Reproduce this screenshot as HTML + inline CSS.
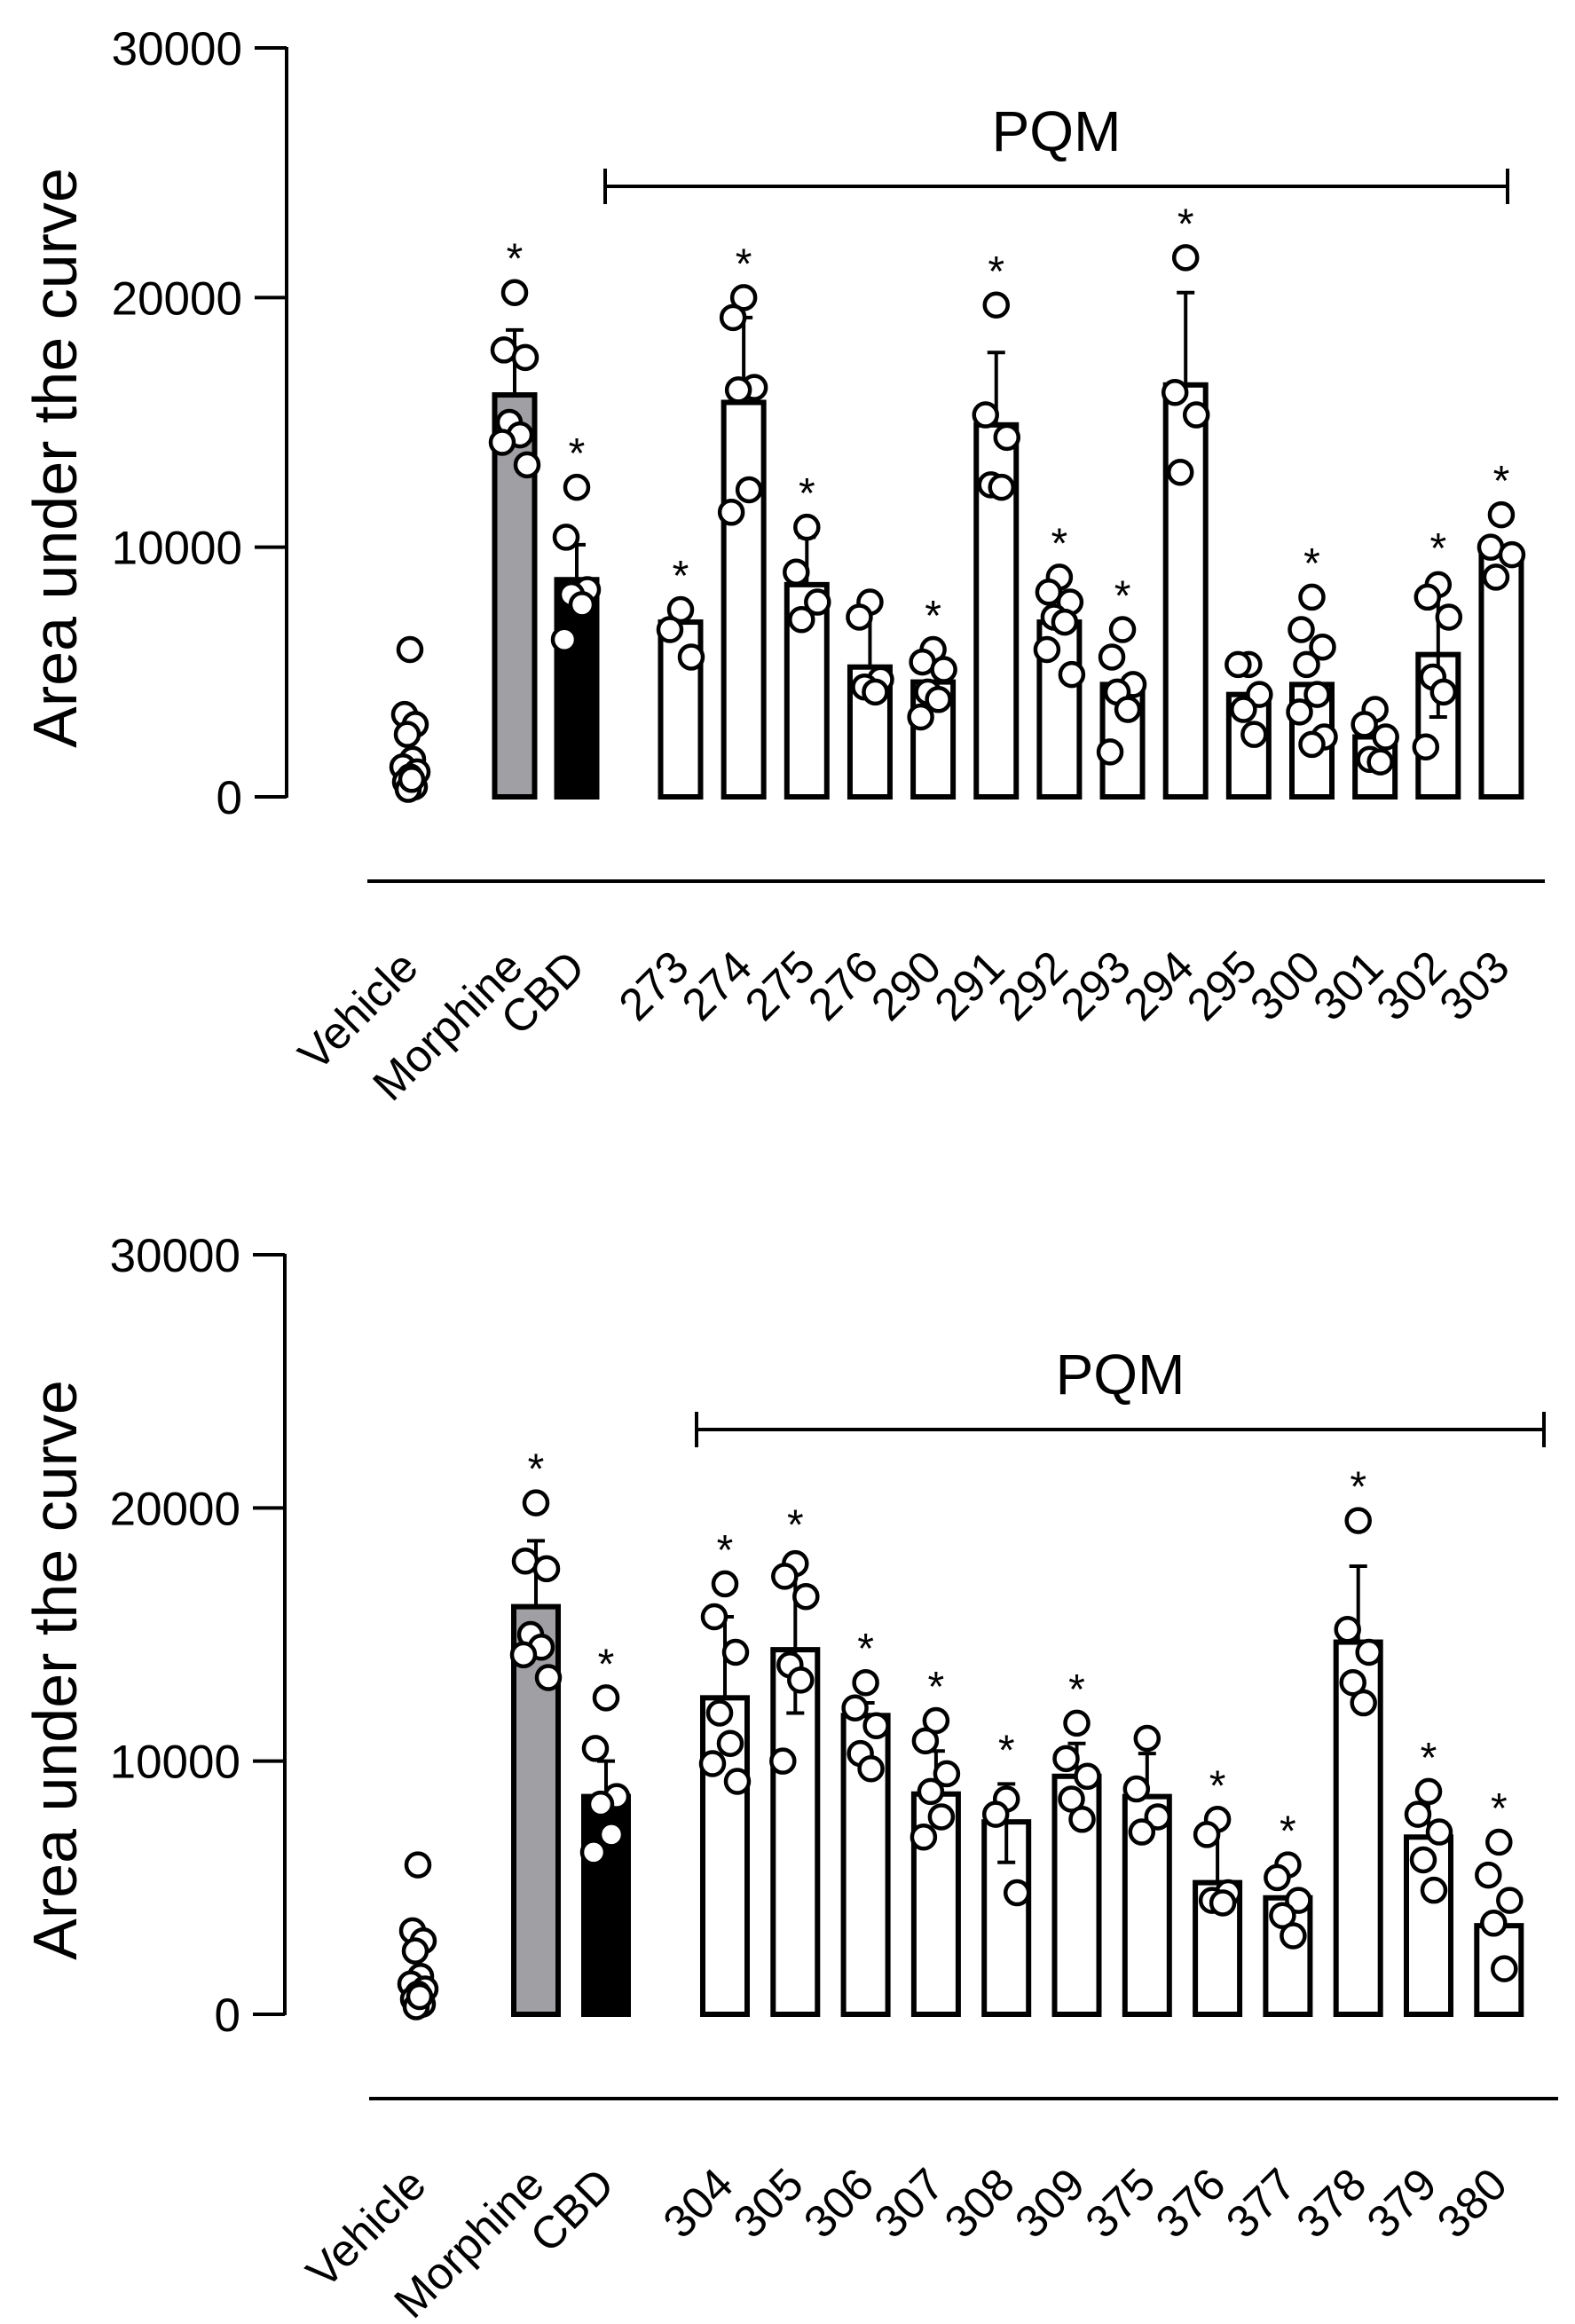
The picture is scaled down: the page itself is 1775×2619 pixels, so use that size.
<!DOCTYPE html>
<html><head><meta charset="utf-8"><style>
html,body{margin:0;padding:0;background:#fff;}
svg{display:block;font-family:"Liberation Sans",Arial,sans-serif;}
</style></head><body>
<svg id="chart" width="1775" height="2619" viewBox="0 0 1775 2619" xmlns="http://www.w3.org/2000/svg"></svg>
<script>
// ---------- data: top panel ----------
const topCategories = ["Vehicle","Morphine","CBD","273","274","275","276","290","291","292","293","294","295","300","301","302","303"];
const topMeans = [1300,16100,8700,7000,15800,8500,5200,4600,14900,7000,4500,16500,4100,4500,2400,5700,9800];
const topErrUp = [null,18700,10100,null,19200,10400,7800,null,17800,null,null,20200,null,null,null,8600,null];
const topErrDown = [null,null,null,null,null,null,null,null,null,null,null,null,null,null,null,3200,null];
const topStars = [false,true,true,true,true,true,false,true,true,true,true,true,false,true,false,true,true];
const topPoints = [
 [5900,3300,2900,2500,1500,1200,1000,800,600,400,300,700],
 [20200,17900,17600,15000,14500,14200,13300],
 [12400,10400,8300,8100,7700,6300],
 [7500,6700,5600],
 [20000,19200,16400,16300,12300,11400],
 [10800,9000,7800,7100],
 [7800,7200,4700,4400,4200],
 [5900,5400,5100,4200,3900,3200],
 [19700,15300,14400,12500,12400],
 [8800,8200,7800,7200,7000,5900,4900],
 [6700,5600,4500,4200,3500,1800],
 [21600,16200,15300,13000],
 [5300,5300,4100,3500,2500],
 [8000,6700,6000,5300,4100,3400,2400,2100],
 [3500,2900,2400,1500,1400],
 [8500,8000,7200,4800,4200,2000],
 [11300,10000,9700,8800]
];
// ---------- data: bottom panel ----------
const botCategories = ["Vehicle","Morphine","CBD","304","305","306","307","308","309","375","376","377","378","379","380"];
const botMeans = [1300,16100,8600,12500,14400,11800,8700,7600,9400,8600,5200,4600,14700,7000,3500];
const botErrUp = [null,18700,10000,15700,18000,12300,10400,9100,10700,10300,7700,null,17700,8800,null];
const botErrDown = [null,null,null,null,11900,null,null,6000,null,null,null,null,null,null,null];
const botStars = [false,true,true,true,true,true,true,true,true,false,true,true,true,true,true];
const botPoints = [
 [5900,3300,2900,2500,1500,1200,1000,800,600,400,300,700],
 [20200,17900,17600,15000,14500,14200,13300],
 [12500,10500,8600,8300,7100,6400],
 [17000,15700,14300,11900,10700,9900,9200],
 [17800,17300,16500,13800,13200,10000],
 [13100,12100,11400,10300,9700],
 [11600,10800,9500,8800,7800,7000],
 [8500,7900,4800],
 [11500,10100,9400,8500,7700],
 [10900,8900,7800,7200],
 [7700,7100,4800,4500,4400],
 [5900,5400,4500,3900,3100],
 [19500,15200,14300,13100,12300],
 [8800,7900,7200,6100,4900],
 [6800,5500,4500,3600,1800]
];
const yTicks = [0,10000,20000,30000];
const yTickLabels = ["0","10000","20000","30000"];

const NS = "http://www.w3.org/2000/svg";
const svg = document.getElementById("chart");
function mk(tag, attrs, parent){
  const e = document.createElementNS(NS, tag);
  for (const k in attrs) e.setAttribute(k, attrs[k]);
  (parent||svg).appendChild(e);
  return e;
}
const jit = [0,-12,12,-6,6,-14,14,0,-9,9,-3,3];
const vjit = [0,-6,6,-3,3,-8,8,0,-5,5,-2,2];

function drawPanel(p){
  const g = mk("g",{});
  
  
  const y = v => p.y0 - v/30000*(p.y0-p.y30);
  const x = i => i===0 ? p.vehX : (i===1 ? p.morX : (i===2 ? p.cbdX : p.firstX + (i-3)*p.step));
  const ax = mk("line",{x1:p.axX,y1:y(30000)-1,x2:p.axX,y2:y(0)+1,stroke:"#000","stroke-width":4},g);
  
  
  yTicks.forEach((t,k)=>{
    const tl = mk("line",{x1:p.axX-36,y1:y(t),x2:p.axX,y2:y(t),stroke:"#000","stroke-width":4},g);
    
    
    const tx = mk("text",{x:p.axX-50,y:y(t)+19,"font-size":53,"text-anchor":"end",fill:"#000"},g);
    tx.textContent = yTickLabels[k];
    
    
  });
  const yt = mk("text",{x:0,y:0,"font-size":70,"text-anchor":"middle",fill:"#000",transform:`translate(86,${(y(0)+y(30000))/2+40}) rotate(-90)`},g);
  yt.textContent = "Area under the curve";
  
  
  const bl = mk("line",{x1:p.blX1,y1:p.blY,x2:p.blX2,y2:p.blY,stroke:"#000","stroke-width":4},g);
  
  
  const br = mk("path",{d:`M${p.brX1},${p.brY-20}V${p.brY+20}M${p.brX1},${p.brY}H${p.brX2}M${p.brX2},${p.brY-20}V${p.brY+20}`,stroke:"#000","stroke-width":4,fill:"none"},g);
  
  
  const pq = mk("text",{x:(p.brX1+p.brX2)/2+p.pqmDx,y:p.brY-40,"font-size":64,"text-anchor":"middle",fill:"#000"},g);
  pq.textContent = "PQM";
  
  
  const bw = p.bw;
  p.cats.forEach((c,i)=>{
    const cx = x(i);
    const m = p.means[i];
    if (i>0){
      const fill = i===1 ? "#a0a0a4" : (i===2 ? "#000" : "#fff");
      const r = mk("rect",{x:cx-bw/2,y:y(m),width:bw,height:y(0)-y(m),fill:fill,stroke:"#000","stroke-width":6},g);
      
      
    }
    let top = m;
    if (p.errUp[i]!==null){
      const e = mk("path",{d:`M${cx},${y(m)}V${y(p.errUp[i])}M${cx-10},${y(p.errUp[i])}H${cx+10}`,stroke:"#000","stroke-width":4,fill:"none"},g);
      
      
      top = Math.max(top,p.errUp[i]);
    }
    if (p.errDown[i]!==null){
      const e = mk("path",{d:`M${cx},${y(m)}V${y(p.errDown[i])}M${cx-10},${y(p.errDown[i])}H${cx+10}`,stroke:"#000","stroke-width":4,fill:"none"},g);
      
      
    }
    const jj = i===0 ? vjit : jit;
    p.pts[i].forEach((v,k)=>{
      const pc = mk("circle",{cx:cx+jj[k%jj.length],cy:y(v),r:13,fill:"#fff",stroke:"#000","stroke-width":4.5},g);
      
      
      top = Math.max(top,v);
    });
    if (p.stars[i]){
      const s = mk("text",{x:cx,y:y(top)-22,"font-size":48,"text-anchor":"middle",fill:"#000"},g);
      s.textContent = "*";
      
      
    }
    const lx = cx+12, ly = p.blY+100;
    const lt = mk("text",{x:lx,y:ly,"font-size":51,"text-anchor":"end",fill:"#000",transform:`rotate(-45 ${lx} ${ly})`},g);
    lt.textContent = c;
    
    
  });
}

drawPanel({name:"top-panel",cats:topCategories,means:topMeans,errUp:topErrUp,errDown:topErrDown,stars:topStars,pts:topPoints,
  y0:898,y30:54,axX:323,vehX:462,morX:580,cbdX:650,firstX:767,step:71.15,bw:45,
  blX1:414,blX2:1741,blY:993,brX1:682,brX2:1699,brY:210,pqmDx:0});
drawPanel({name:"bottom-panel",cats:botCategories,means:botMeans,errUp:botErrUp,errDown:botErrDown,stars:botStars,pts:botPoints,
  y0:2270,y30:1414,axX:321,vehX:471,morX:604,cbdX:683,firstX:817,step:79.3,bw:50,
  blX1:416,blX2:1756,blY:2365,brX1:785,brX2:1740,brY:1611,pqmDx:0});
</script>
</body></html>
